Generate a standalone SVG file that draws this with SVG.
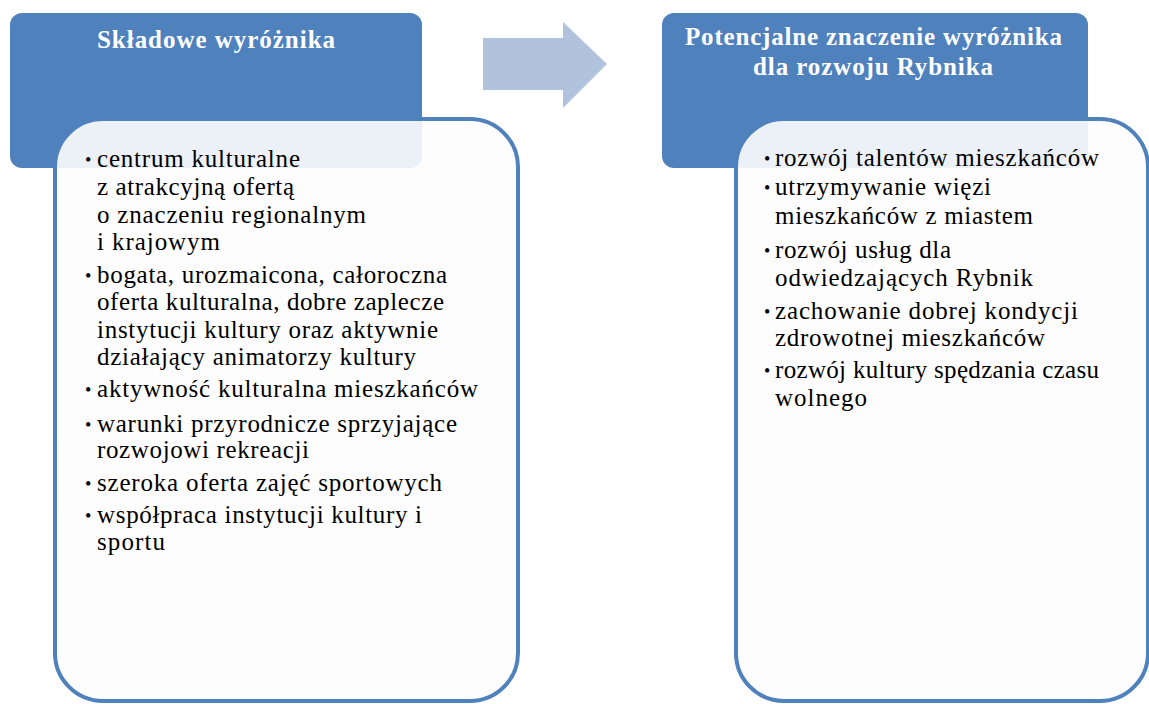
<svg xmlns="http://www.w3.org/2000/svg" width="1149" height="704" viewBox="0 0 1149 704">
<style>
.hdr{fill:#4F81BD}
.body{fill:#FDFDFD;fill-opacity:0.9;stroke:#4F81BD;stroke-width:4}
.ht{font-family:"Liberation Serif","Times New Roman",serif;font-weight:bold;font-size:25px;fill:#FFFFFF}
.t{font-family:"Liberation Serif","Times New Roman",serif;font-size:25px;fill:#000000}
.b{font-family:"Liberation Serif","Times New Roman",serif;font-size:18px;fill:#000000}
.arrow{fill:#B1C2DC}
</style>
<rect width="1149" height="704" fill="#FFFFFF"/>
<g id="node-left">
<rect class="hdr" x="10" y="13" width="412" height="155" rx="12"/>
<text class="ht" x="97" y="48" textLength="238" lengthAdjust="spacing">Składowe wyróżnika</text>
<rect class="body" x="55" y="119" width="463" height="582" rx="48"/>
<text class="b" x="85" y="166">•</text>
<text class="t" x="97" y="167" textLength="203" lengthAdjust="spacing">centrum kulturalne</text>
<text class="t" x="97" y="195" textLength="197" lengthAdjust="spacing">z atrakcyjną ofertą</text>
<text class="t" x="97" y="223" textLength="269" lengthAdjust="spacing">o znaczeniu regionalnym</text>
<text class="t" x="97" y="250" textLength="123" lengthAdjust="spacing">i krajowym</text>
<text class="b" x="85" y="282">•</text>
<text class="t" x="97" y="283" textLength="350" lengthAdjust="spacing">bogata, urozmaicona, całoroczna</text>
<text class="t" x="97" y="310" textLength="347" lengthAdjust="spacing">oferta kulturalna, dobre zaplecze</text>
<text class="t" x="97" y="338" textLength="341" lengthAdjust="spacing">instytucji kultury oraz aktywnie</text>
<text class="t" x="97" y="365" textLength="319" lengthAdjust="spacing">działający animatorzy kultury</text>
<text class="b" x="85" y="396">•</text>
<text class="t" x="97" y="397" textLength="381" lengthAdjust="spacing">aktywność kulturalna mieszkańców</text>
<text class="b" x="85" y="431">•</text>
<text class="t" x="97" y="432" textLength="360" lengthAdjust="spacing">warunki przyrodnicze sprzyjające</text>
<text class="t" x="97" y="458" textLength="212" lengthAdjust="spacing">rozwojowi rekreacji</text>
<text class="b" x="85" y="490">•</text>
<text class="t" x="97" y="491" textLength="345" lengthAdjust="spacing">szeroka oferta zajęć sportowych</text>
<text class="b" x="85" y="522">•</text>
<text class="t" x="97" y="523" textLength="325" lengthAdjust="spacing">współpraca instytucji kultury i</text>
<text class="t" x="97" y="550" textLength="68" lengthAdjust="spacing">sportu</text>
</g>
<g id="connectors">
<polygon class="arrow" points="483,38 563,38 563,22 607,64 563,108 563,90 483,90"/>
</g>
<g id="node-right">
<rect class="hdr" x="662" y="13" width="426" height="155" rx="12"/>
<text class="ht" x="685" y="45" textLength="377" lengthAdjust="spacing">Potencjalne znaczenie wyróżnika</text>
<text class="ht" x="753" y="75" textLength="240" lengthAdjust="spacing">dla rozwoju Rybnika</text>
<rect class="body" x="736" y="119" width="412" height="582" rx="48"/>
<text class="b" x="764" y="165">•</text>
<text class="t" x="775" y="166" textLength="324" lengthAdjust="spacing">rozwój talentów mieszkańców</text>
<text class="b" x="764" y="194">•</text>
<text class="t" x="775" y="195" textLength="216" lengthAdjust="spacing">utrzymywanie więzi</text>
<text class="t" x="775" y="224" textLength="258" lengthAdjust="spacing">mieszkańców z miastem</text>
<text class="b" x="764" y="257">•</text>
<text class="t" x="775" y="258" textLength="176" lengthAdjust="spacing">rozwój usług dla</text>
<text class="t" x="775" y="286" textLength="258" lengthAdjust="spacing">odwiedzających Rybnik</text>
<text class="b" x="764" y="318">•</text>
<text class="t" x="775" y="319" textLength="303" lengthAdjust="spacing">zachowanie dobrej kondycji</text>
<text class="t" x="775" y="346" textLength="270" lengthAdjust="spacing">zdrowotnej mieszkańców</text>
<text class="b" x="764" y="377">•</text>
<text class="t" x="775" y="378" textLength="324" lengthAdjust="spacing">rozwój kultury spędzania czasu</text>
<text class="t" x="775" y="406" textLength="92" lengthAdjust="spacing">wolnego</text>
</g>
</svg>
